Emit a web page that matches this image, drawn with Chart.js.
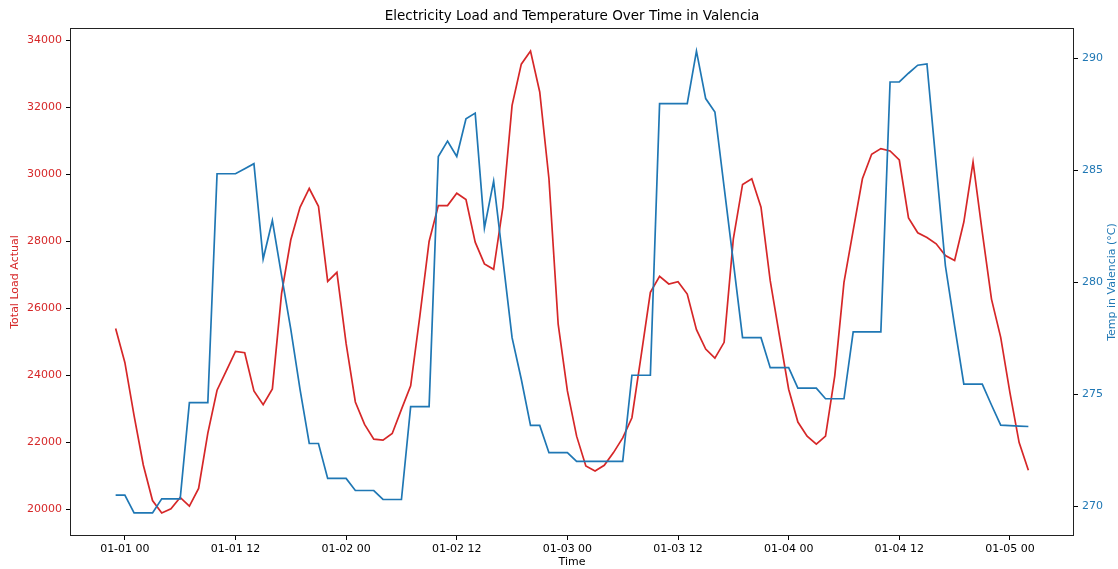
<!DOCTYPE html>
<html>
<head>
<meta charset="utf-8">
<script src="https://cdn.jsdelivr.net/npm/chart.js@4.4.1/dist/chart.umd.min.js"></script>
<style>
  html, body { margin: 0; padding: 0; background: #fff; }
  #wrap { width: 1118px; height: 569px; }
</style>
</head>
<body>
<div id="wrap"><canvas id="grafico" width="1118" height="569"></canvas></div>
<script>
// hourly readings, the first one is 2014-12-31 23:00 (UTC), i.e. one hour before 01-01 00
const firstHour = -1;

const totalLoad = [
  25400, 24390, 22800, 21330, 20270, 19900, 20020, 20360, 20100, 20630,
  22280, 23560, 24140, 24720, 24680, 23540, 23130, 23600, 26450, 28050,
  29020, 29580, 29050, 26810, 27080, 24950, 23210, 22540, 22100, 22070,
  22270, 22990, 23690, 25780, 28000, 29070, 29070, 29440, 29250, 27980,
  27330, 27170, 29020, 32060, 33290, 33680, 32460, 29870, 25530, 23540,
  22190, 21300, 21150, 21320, 21700, 22140, 22740, 24590, 26480, 26960,
  26730, 26800, 26430, 25370, 24790, 24520, 24990, 28080, 29700, 29870,
  29020, 26830, 25190, 23590, 22610, 22190, 21950, 22190, 23990, 26780,
  28330, 29870, 30600, 30770, 30700, 30430, 28700, 28260, 28120, 27930,
  27580, 27430, 28580, 30370, 28280, 26280, 25140, 23490, 22000, 21170
];

const tempValencia = [
  270.49, 270.49, 269.70, 269.70, 269.70, 270.33, 270.33, 270.33, 274.63, 274.63,
  274.63, 284.85, 284.85, 284.85, 285.07, 285.30, 281.04, 282.76, 280.30, 277.90,
  275.22, 272.80, 272.80, 271.24, 271.24, 271.24, 270.70, 270.70, 270.70, 270.30,
  270.30, 270.30, 274.45, 274.45, 274.45, 285.62, 286.31, 285.62, 287.31, 287.56,
  282.43, 284.52, 281.04, 277.53, 275.67, 273.61, 273.61, 272.39, 272.39, 272.39,
  272.00, 272.00, 272.00, 272.00, 272.00, 272.00, 275.85, 275.85, 275.85, 287.98,
  287.98, 287.98, 287.98, 290.33, 288.21, 287.61, 284.25, 280.90, 277.53, 277.53,
  277.53, 276.19, 276.19, 276.19, 275.27, 275.27, 275.27, 274.80, 274.80, 274.80,
  277.79, 277.79, 277.79, 277.79, 288.95, 288.95, 289.34, 289.70, 289.76, 285.25,
  280.74, 278.06, 275.45, 275.45, 275.45, 274.52, 273.62, 273.60, 273.58, 273.56
];

const tickHours = [0, 12, 24, 36, 48, 60, 72, 84, 96];
const tickLabels = ['01-01 00', '01-01 12', '01-02 00', '01-02 12', '01-03 00',
                    '01-03 12', '01-04 00', '01-04 12', '01-05 00'];
const loadTicks = [20000, 22000, 24000, 26000, 28000, 30000, 32000, 34000];
const tempTicks = [270, 275, 280, 285, 290];

const titulo = 'Electricity Load and Temperature Over Time in Valencia';
const vermelho = '#d62728';
const azul = '#1f77b4';
const fonte = { family: 'DejaVu Sans', size: 11 };

const horas = totalLoad.map((_, i) => firstHour + i);

// same 5% margin matplotlib puts round the data
function margem(arr) {
  const lo = Math.min(...arr), hi = Math.max(...arr), m = (hi - lo) * 0.05;
  return [lo - m, hi + m];
}
const [xMin, xMax] = margem(horas);
const [cargaMin, cargaMax] = margem(totalLoad);
const [tempMin, tempMax] = margem(tempValencia);

const marcas = { display: true, drawOnChartArea: false, drawTicks: true, tickLength: 4, tickColor: '#000' };

// frame, title centred over the plot, and right label read bottom-up
const moldura = {
  id: 'moldura',
  beforeDraw(chart) {
    const ctx = chart.ctx;
    ctx.save();
    ctx.fillStyle = '#fff';
    ctx.fillRect(0, 0, chart.width, chart.height);
    ctx.restore();
  },
  afterDraw(chart) {
    const { ctx, chartArea: a } = chart;
    ctx.save();
    ctx.strokeStyle = '#222';
    ctx.lineWidth = 1;
    ctx.strokeRect(Math.round(a.left) + 0.5, Math.round(a.top) + 0.5,
                   Math.round(a.right - a.left) - 1, Math.round(a.bottom - a.top) - 1);

    ctx.fillStyle = '#000';
    ctx.font = '13.5px "DejaVu Sans"';
    ctx.textAlign = 'center';
    ctx.textBaseline = 'middle';
    ctx.fillText(titulo, (a.left + a.right) / 2, 16);

    ctx.translate(1112, (a.top + a.bottom) / 2);
    ctx.rotate(-Math.PI / 2);
    ctx.fillStyle = azul;
    ctx.font = '11px "DejaVu Sans"';
    ctx.fillText('Temp in Valencia (°C)', 0, 0);
    ctx.restore();
  }
};

new Chart(document.getElementById('grafico'), {
  type: 'line',
  data: {
    datasets: [
      {
        label: 'Total Load Actual',
        data: horas.map((h, i) => ({ x: h, y: totalLoad[i] })),
        yAxisID: 'yCarga',
        borderColor: vermelho,
        borderWidth: 1.7,
        pointRadius: 0,
        tension: 0,
        order: 1
      },
      {
        label: 'Temp in Valencia (°C)',
        data: horas.map((h, i) => ({ x: h, y: tempValencia[i] })),
        yAxisID: 'yTemp',
        borderColor: azul,
        borderWidth: 1.7,
        pointRadius: 0,
        tension: 0,
        order: 0
      }
    ]
  },
  options: {
    responsive: false,
    animation: false,
    layout: { padding: { top: 28, left: 0, right: 0, bottom: 0 } },
    plugins: {
      legend: { display: false },
      tooltip: { enabled: false },
      title: { display: false }
    },
    scales: {
      x: {
        type: 'linear',
        min: xMin,
        max: xMax,
        afterBuildTicks: s => { s.ticks = tickHours.map(v => ({ value: v })); },
        afterFit: s => { s.height = 33; },
        ticks: {
          callback: v => tickLabels[tickHours.indexOf(v)],
          color: '#000', font: fonte, padding: 3, maxRotation: 0, autoSkip: false
        },
        grid: marcas,
        border: { display: false },
        title: { display: true, text: 'Time', color: '#000', font: fonte, padding: { top: 0, bottom: 0 } }
      },
      yCarga: {
        position: 'left',
        min: cargaMin,
        max: cargaMax,
        afterBuildTicks: s => { s.ticks = loadTicks.map(v => ({ value: v })); },
        afterFit: s => { s.width = 70; },
        ticks: { color: vermelho, font: fonte, padding: 4, callback: v => String(v) },
        grid: marcas,
        border: { display: false },
        title: { display: true, text: 'Total Load Actual', color: vermelho, font: fonte, padding: { top: 9, bottom: 0 } }
      },
      yTemp: {
        position: 'right',
        min: tempMin,
        max: tempMax,
        afterBuildTicks: s => { s.ticks = tempTicks.map(v => ({ value: v })); },
        afterFit: s => { s.width = 44; },
        ticks: { color: azul, font: fonte, padding: 4, callback: v => String(v) },
        grid: marcas,
        border: { display: false }
      }
    }
  },
  plugins: [moldura]
});
</script>
</body>
</html>
